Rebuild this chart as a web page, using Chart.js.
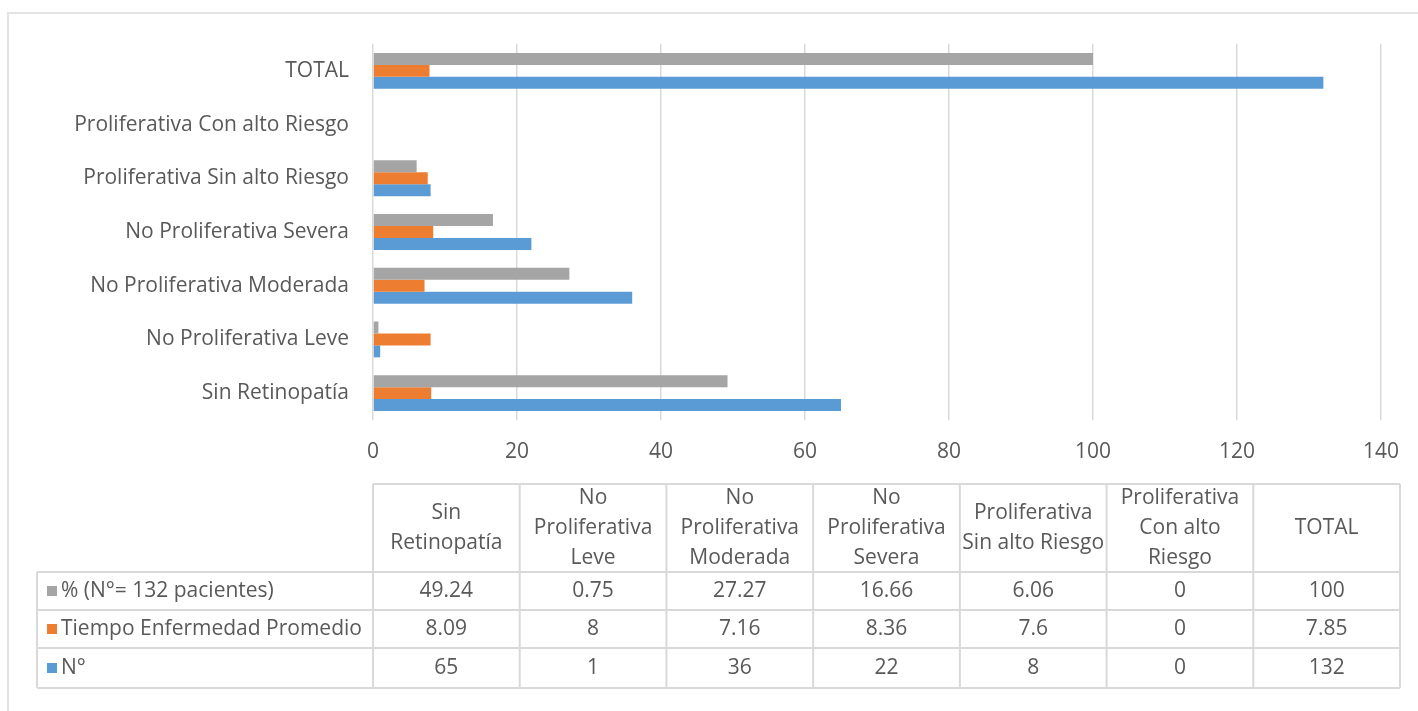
<!DOCTYPE html>
<html>
<head>
<meta charset="utf-8">
<script src="https://cdn.jsdelivr.net/npm/chart.js@4/dist/chart.umd.min.js"></script>
<style>
    body { margin: 0; background: #fff; }
    #wrap { width: 1418px; height: 711px; position: relative; }
</style>
</head>
<body>
<div id="wrap"><canvas id="chart1" width="1418" height="711"></canvas></div>
<script>
// categories in table order (left to right)
const categories = [
    'Sin Retinopatía',
    'No Proliferativa Leve',
    'No Proliferativa Moderada',
    'No Proliferativa Severa',
    'Proliferativa Sin alto Riesgo',
    'Proliferativa Con alto Riesgo',
    'TOTAL'
]
// wrapped header text for the data table
const headerLines = [
    ['Sin', 'Retinopatía'],
    ['No', 'Proliferativa', 'Leve'],
    ['No', 'Proliferativa', 'Moderada'],
    ['No', 'Proliferativa', 'Severa'],
    ['Proliferativa', 'Sin alto Riesgo'],
    ['Proliferativa', 'Con alto', 'Riesgo'],
    ['TOTAL']
]
const pctValues = [49.24, 0.75, 27.27, 16.66, 6.06, 0, 100]
const tiempoValues = [8.09, 8, 7.16, 8.36, 7.6, 0, 7.85]
const nValues = [65, 1, 36, 22, 8, 0, 132]
const seriesNames = ['% (N°= 132 pacientes)', 'Tiempo Enfermedad Promedio', 'N°']
const xTicks = [0, 20, 40, 60, 80, 100, 120, 140]

const colors = ['#A5A5A5', '#ED7D31', '#5B9BD5']
const textColor = '#595959'
const lineColor = '#D9D9D9'
const font = "'Open Sans', sans-serif"
const fontSize = 21

const series = [pctValues, tiempoValues, nValues]

// chart lists categories top to bottom, so flip the table order
const rev = a => a.slice().reverse()

const frame = {
    id: 'frame',
    beforeDraw(chart) {
        const ctx = chart.ctx
        ctx.save()
        ctx.fillStyle = '#fff'
        ctx.fillRect(0, 0, chart.width, chart.height)
        ctx.strokeStyle = '#E3E3E3'
        ctx.lineWidth = 2
        ctx.strokeRect(8, 13, chart.width + 20, chart.height + 20)
        ctx.restore()
    }
}

// data table drawn under the x axis
const dataTable = {
    id: 'dataTable',
    afterDraw(chart) {
        const ctx = chart.ctx
        const left = chart.chartArea.left
        const legendLeft = 37
        const colW = 1027 / categories.length
        const right = left + colW * categories.length
        const top = 484
        const rows = [572, 610, 648, 688]

        ctx.save()
        ctx.strokeStyle = lineColor
        ctx.lineWidth = 2
        ctx.beginPath()
        ctx.moveTo(left, top); ctx.lineTo(right, top)
        for (const y of rows) { ctx.moveTo(legendLeft, y); ctx.lineTo(right, y) }
        ctx.moveTo(legendLeft, rows[0]); ctx.lineTo(legendLeft, rows[3])
        for (let i = 0; i <= categories.length; i++) {
            const x = left + colW * i
            ctx.moveTo(x, top); ctx.lineTo(x, rows[3])
        }
        ctx.stroke()

        ctx.fillStyle = textColor
        ctx.font = fontSize + 'px ' + font
        ctx.textAlign = 'center'
        ctx.textBaseline = 'middle'
        const headMid = (top + rows[0]) / 2
        headerLines.forEach((lines, i) => {
            const cx = left + colW * (i + 0.5)
            const y0 = headMid - (lines.length - 1) * 15
            lines.forEach((t, j) => ctx.fillText(t, cx, y0 + j * 30))
        })

        series.forEach((vals, r) => {
            const cy = (rows[r] + rows[r + 1]) / 2
            vals.forEach((v, i) => {
                ctx.fillText(String(v), left + colW * (i + 0.5), cy)
            })
            ctx.fillStyle = colors[r]
            ctx.fillRect(47, cy - 5, 10, 10)
            ctx.fillStyle = textColor
            ctx.textAlign = 'left'
            ctx.fillText(seriesNames[r], 61, cy)
            ctx.textAlign = 'center'
        })
        ctx.restore()
    }
}

const chartData = {
    type: 'bar',
    data: {
        labels: rev(categories),
        datasets: series.map((vals, i) => ({
            label: seriesNames[i],
            data: rev(vals),
            backgroundColor: colors[i],
            borderWidth: 0,
            categoryPercentage: 0.667,
            barPercentage: 1
        }))
    },
    options: {
        indexAxis: 'y',
        responsive: false,
        animation: false,
        layout: { padding: { top: 44, right: 37, bottom: 241, left: 0 } },
        plugins: {
            legend: { display: false },
            tooltip: { enabled: false }
        },
        scales: {
            x: {
                min: 0,
                max: 140,
                afterBuildTicks: scale => { scale.ticks = xTicks.map(v => ({ value: v })) },
                afterFit: scale => { scale.height = 50 },
                border: { display: false },
                grid: { color: lineColor, lineWidth: 1.5, drawTicks: false },
                ticks: { color: textColor, padding: 19, font: { family: font, size: fontSize } }
            },
            y: {
                afterFit: scale => { scale.width = 373 },
                border: { display: false },
                grid: { display: false, drawTicks: false },
                ticks: { color: textColor, padding: 24, font: { family: font, size: fontSize } }
            }
        }
    },
    plugins: [frame, dataTable]
}

new Chart(document.getElementById('chart1').getContext('2d'), chartData)
</script>
</body>
</html>
